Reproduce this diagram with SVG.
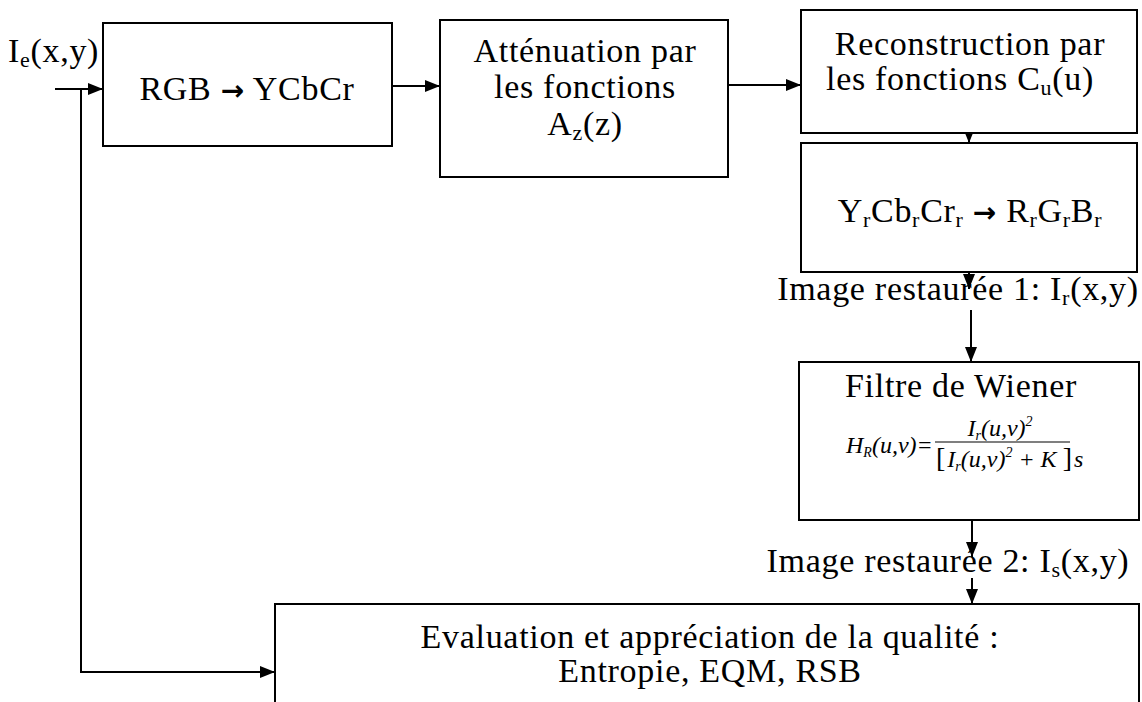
<svg xmlns="http://www.w3.org/2000/svg" width="1142" height="702" viewBox="0 0 1142 702">
<style>
.box{fill:#fff;stroke:#000;stroke-width:2}
.t{font-family:"Liberation Serif","DejaVu Serif",serif;font-size:34px;letter-spacing:0.7px;fill:#000}
.c{text-anchor:middle}
.s{font-size:22px}
.ar{font-family:"DejaVu Sans",sans-serif;font-weight:bold;font-size:28px}
.f{font-family:"Liberation Serif","DejaVu Serif",serif;font-style:italic;font-size:24px;fill:#000}
.fs{font-size:14px}
.ln{fill:none;stroke:#000;stroke-width:2}
</style>
<defs>
<marker id="ah" markerUnits="userSpaceOnUse" markerWidth="16" markerHeight="14" refX="15" refY="7" orient="auto">
<path d="M0,1 L15,7 L0,13 z" fill="#000"/>
</marker>
</defs>
<rect width="1142" height="702" fill="#fff"/>
<g id="connectors">
<path class="ln" d="M55,89 H103" marker-end="url(#ah)"/>
<path class="ln" d="M81,89 V672 H275" marker-end="url(#ah)"/>
<path class="ln" d="M392,86 H440" marker-end="url(#ah)"/>
<path class="ln" d="M728,85 H801" marker-end="url(#ah)"/>
<path class="ln" d="M969,133 V143" marker-end="url(#ah)"/>
<path class="ln" d="M969,272 V289" marker-end="url(#ah)"/>
<path class="ln" d="M971,310 V362" marker-end="url(#ah)"/>
<path class="ln" d="M972,520 V557" marker-end="url(#ah)"/>
<path class="ln" d="M972,578 V604" marker-end="url(#ah)"/>
</g>
<g id="input">
<text class="t" x="8" y="62">I<tspan class="s" dy="5">e</tspan><tspan dy="-5">(x,y)</tspan></text>
</g>
<g id="rgb2ycbcr">
<rect class="box" x="103" y="23" width="289" height="123"/>
<text class="t c" x="247" y="100">RGB <tspan class="ar">→</tspan> YCbCr</text>
</g>
<g id="attenuation">
<rect class="box" x="440" y="20" width="288" height="157"/>
<text class="t c" x="585" y="62">Atténuation par</text>
<text class="t c" x="585" y="98">les fonctions</text>
<text class="t c" x="585" y="135">A<tspan class="s" dy="5">z</tspan><tspan dy="-5">(z)</tspan></text>
</g>
<g id="reconstruction">
<rect class="box" x="801" y="10" width="336" height="123"/>
<text class="t c" x="970" y="55">Reconstruction par</text>
<text class="t c" x="960" y="90">les fonctions C<tspan class="s" dy="5">u</tspan><tspan dy="-5">(u)</tspan></text>
</g>
<g id="ycbcr2rgb">
<rect class="box" x="801" y="143" width="336" height="129"/>
<text class="t c" x="970" y="222">Y<tspan class="s" dy="5">r</tspan><tspan dy="-5">Cb</tspan><tspan class="s" dy="5">r</tspan><tspan dy="-5">Cr</tspan><tspan class="s" dy="5">r</tspan><tspan dy="-5"> </tspan><tspan class="ar">→</tspan><tspan> R</tspan><tspan class="s" dy="5">r</tspan><tspan dy="-5">G</tspan><tspan class="s" dy="5">r</tspan><tspan dy="-5">B</tspan><tspan class="s" dy="5">r</tspan></text>
</g>
<g id="label1">
<text class="t c" x="958" y="300">Image restaurée 1: I<tspan class="s" dy="5">r</tspan><tspan dy="-5">(x,y)</tspan></text>
</g>
<g id="wiener">
<rect class="box" x="799" y="362" width="340" height="158"/>
<text class="t c" x="961" y="397">Filtre de Wiener</text>
<text class="f" x="846" y="453">H<tspan class="fs" dy="4">R</tspan><tspan dy="-4">(u,v)=</tspan></text>
<text class="f c" x="1000" y="436">I<tspan class="fs" dy="4">r</tspan><tspan dy="-4">(u,v)</tspan><tspan class="fs" dy="-10">2</tspan></text>
<line x1="935" y1="442" x2="1070" y2="442" stroke="#000" stroke-width="1.2"/>
<text class="f" x="936" y="467"><tspan font-style="normal" font-size="28">[</tspan><tspan dx="2">I</tspan><tspan class="fs" dy="4">r</tspan><tspan dy="-4">(u,v)</tspan><tspan class="fs" dy="-10">2</tspan><tspan dy="10"> + K </tspan><tspan font-style="normal" font-size="28">]</tspan><tspan dx="2">s</tspan></text>
</g>
<g id="label2">
<text class="t c" x="948" y="572">Image restaurée 2: I<tspan class="s" dy="5">s</tspan><tspan dy="-5">(x,y)</tspan></text>
</g>
<g id="evaluation">
<rect class="box" x="275" y="604" width="864" height="120"/>
<text class="t c" x="710" y="648">Evaluation et appréciation de la qualité :</text>
<text class="t c" x="710" y="682">Entropie, EQM, RSB</text>
</g>
</svg>
